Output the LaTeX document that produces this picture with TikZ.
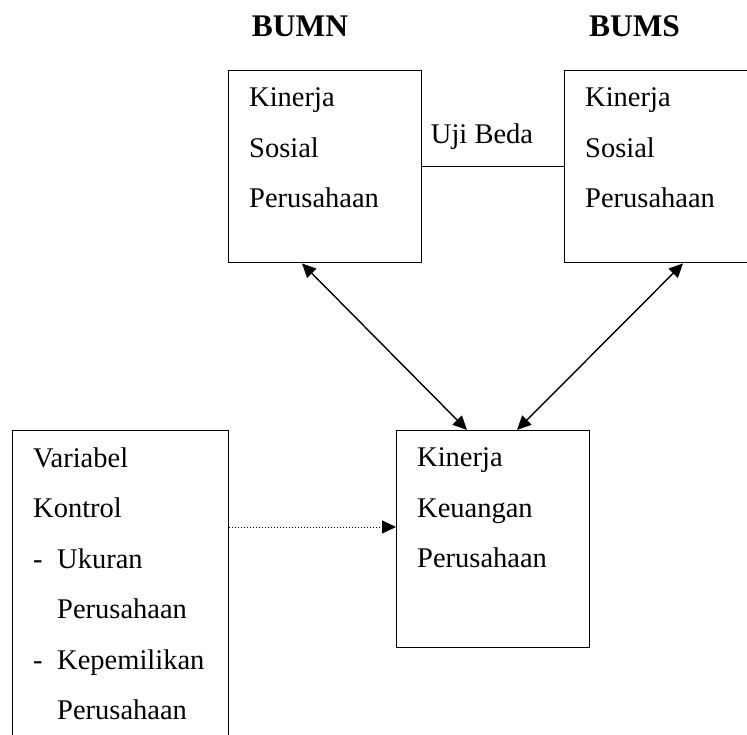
\documentclass[tikz,border=0pt]{standalone}
\usepackage{fontspec}
\setmainfont{Liberation Serif}
\usetikzlibrary{arrows.meta}
\begin{document}
\begin{tikzpicture}[
  x=1pt, y=-1pt,
  box/.style={draw, line width=1.4pt, rectangle, inner sep=0pt, anchor=north west},
  txt/.style={inner sep=0pt, anchor=north west, align=left,
    font=\fontsize{28.5}{50.5}\selectfont},
  ttl/.style={inner sep=0pt, anchor=base, font=\fontsize{31.5}{36}\selectfont\bfseries},
  link/.style={line width=1.4pt, {Triangle[length=14pt,width=13pt]}-{Triangle[length=14pt,width=13pt]}}
]
\clip (0,0) rectangle (747,735);
% the four boxes
\node[box, minimum width=193pt, minimum height=192pt] (sosN) at (228,70) {};
\node[box, minimum width=200pt, minimum height=192pt] (sosS) at (564,70) {};
\node[box, minimum width=193pt, minimum height=217pt] (keu) at (396,430) {};
\node[box, minimum width=216pt, minimum height=330pt] (ctrl) at (12,430) {};
% texts
\node[txt] (sosNtxt) at ([shift={(21,17.5)}]sosN.north west) {Kinerja\\Sosial\\Perusahaan};
\node[txt] (sosStxt) at ([shift={(21,17.5)}]sosS.north west) {Kinerja\\Sosial\\Perusahaan};
\node[txt] (keutxt) at ([shift={(21,17.5)}]keu.north west) {Kinerja\\Keuangan\\Perusahaan};
\node[txt] (ctrltxt) at ([shift={(21,17.5)}]ctrl.north west)
  {Variabel\\Kontrol\\\makebox[24pt][l]{-}Ukuran\\\hspace*{24pt}Perusahaan\\
   \makebox[24pt][l]{-}Kepemilikan\\\hspace*{24pt}Perusahaan};
\node[ttl] (bumn) at (300,37) {BUMN};
\node[ttl] (bums) at (634.5,37) {BUMS};
\node[inner sep=0pt, anchor=base, font=\fontsize{28.5}{34}\selectfont] (uji) at (482,144) {Uji Beda};
% connectors
\draw[line width=1.4pt] (sosN.east) -- (sosS.west);
\draw[link] ([xshift=74pt]sosN.south west) -- ([xshift=71pt]keu.north west);
\draw[link] ([xshift=119pt]sosS.south west) -- ([xshift=121pt]keu.north west);
\coordinate (dl) at (0,527);
\draw[line width=1pt, dotted, -{Triangle[length=14pt,width=13pt]}] (ctrl.east |- dl) -- (keu.west |- dl);
\end{tikzpicture}
\end{document}
